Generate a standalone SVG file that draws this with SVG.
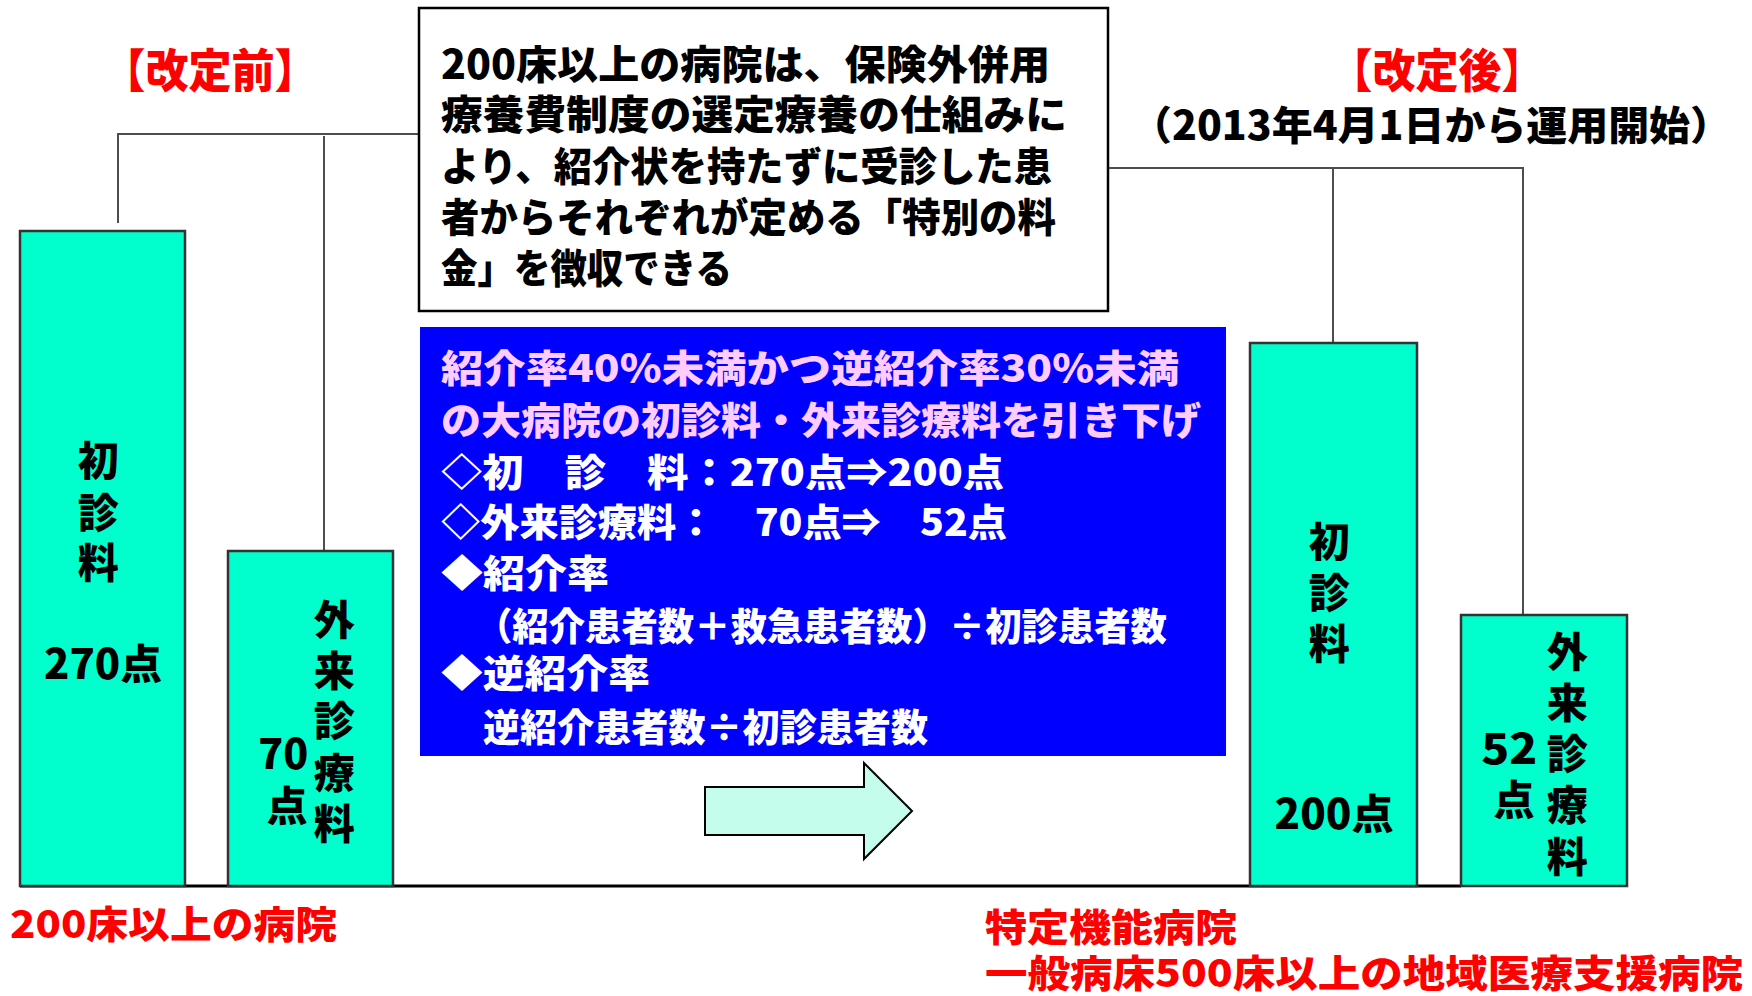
<svg xmlns="http://www.w3.org/2000/svg" width="1752" height="996" viewBox="0 0 1752 996">
<style>
  text { font-family: "Noto Sans CJK JP", "Noto Sans", sans-serif; font-weight: 900; }
  .red { fill: #FF0000; }
  .blk { fill: #000000; }
  .pink { fill: #FFCCFF; }
  .wht { fill: #FFFFFF; }
  .bar { fill: #00FFCC; stroke: #333333; stroke-width: 2.5; }
  .conn { fill: none; stroke: #4D4D4D; stroke-width: 2; }
  .mid { text-anchor: middle; }
</style>
<rect width="1752" height="996" fill="#FFFFFF"/>

<g id="connectors">
  <polyline class="conn" points="118,223 118,134 419,134" stroke="#222222"/>
  <line class="conn" x1="324" y1="136" x2="324" y2="551"/>
  <polyline class="conn" points="1108,168 1523,168 1523,615"/>
  <line class="conn" x1="1333" y1="168" x2="1333" y2="343"/>
  <line x1="20" y1="886" x2="1461" y2="886" stroke="#000000" stroke-width="3"/>
</g>

<g id="title-before">
  <text class="red mid" x="210" y="87" font-size="46" textLength="215" lengthAdjust="spacingAndGlyphs">【改定前】</text>
</g>
<g id="title-after">
  <text class="red mid" x="1437" y="87" font-size="46" textLength="215" lengthAdjust="spacingAndGlyphs">【改定後】</text>
  <text class="blk mid" x="1431" y="140" font-size="40" textLength="600" lengthAdjust="spacingAndGlyphs">（2013年4月1日から運用開始）</text>
</g>

<g id="note-box">
  <rect x="419" y="8" width="689" height="303" fill="#FFFFFF" stroke="#000000" stroke-width="2.5"/>
  <text class="blk" font-size="40">
    <tspan x="441" y="79" textLength="609" lengthAdjust="spacingAndGlyphs">200床以上の病院は、保険外併用</tspan>
    <tspan x="441" y="129" textLength="626" lengthAdjust="spacingAndGlyphs">療養費制度の選定療養の仕組みに</tspan>
    <tspan x="441" y="181" textLength="611" lengthAdjust="spacingAndGlyphs">より、紹介状を持たずに受診した患</tspan>
    <tspan x="441" y="232" textLength="615" lengthAdjust="spacingAndGlyphs">者からそれぞれが定める「特別の料</tspan>
    <tspan x="441" y="283" textLength="291" lengthAdjust="spacingAndGlyphs">金」を徴収できる</tspan>
  </text>
</g>

<g id="info-box">
  <rect x="420" y="327" width="806" height="429" fill="#0000FF"/>
  <text font-size="38">
    <tspan class="pink" x="441" y="382" textLength="738" lengthAdjust="spacingAndGlyphs">紹介率40％未満かつ逆紹介率30％未満</tspan>
    <tspan class="pink" x="441" y="434" textLength="760" lengthAdjust="spacingAndGlyphs">の大病院の初診料・外来診療料を引き下げ</tspan>
    <tspan class="wht" x="441" y="486" textLength="563" lengthAdjust="spacingAndGlyphs">◇初　診　料：270点⇒200点</tspan>
    <tspan class="wht" x="441" y="536" textLength="566" lengthAdjust="spacingAndGlyphs">◇外来診療料：　70点⇒　52点</tspan>
    <tspan class="wht" x="441" y="587" textLength="168" lengthAdjust="spacingAndGlyphs">◆紹介率</tspan>
    <tspan class="wht" x="476" y="640" textLength="691" lengthAdjust="spacingAndGlyphs">（紹介患者数＋救急患者数）÷初診患者数</tspan>
    <tspan class="wht" x="441" y="687" textLength="209" lengthAdjust="spacingAndGlyphs">◆逆紹介率</tspan>
    <tspan class="wht" x="483" y="741" textLength="445" lengthAdjust="spacingAndGlyphs">逆紹介患者数÷初診患者数</tspan>
  </text>
</g>

<g id="bar-before-first">
  <rect class="bar" x="20" y="231" width="165" height="655"/>
  <text class="blk mid" font-size="41">
    <tspan x="103" y="476">初</tspan>
    <tspan x="103" y="528">診</tspan>
    <tspan x="103" y="578">料</tspan>
    <tspan x="103" y="679" textLength="118" lengthAdjust="spacingAndGlyphs">270点</tspan>
  </text>
</g>

<g id="bar-before-outpatient">
  <rect class="bar" x="228" y="551" width="165" height="335"/>
  <text class="blk mid" font-size="41">
    <tspan x="339" y="635">外</tspan>
    <tspan x="339" y="686">来</tspan>
    <tspan x="339" y="736">診</tspan>
    <tspan x="339" y="788">療</tspan>
    <tspan x="339" y="839">料</tspan>
    <tspan x="288" y="769" textLength="50" lengthAdjust="spacingAndGlyphs">70</tspan>
    <tspan x="287" y="821">点</tspan>
  </text>
</g>

<g id="arrow">
  <polygon points="705,787 864,787 864,763 912,811 864,859 864,835 705,835" fill="#C4FDEC" stroke="#000000" stroke-width="2"/>
</g>

<g id="bar-after-first">
  <rect class="bar" x="1250" y="343" width="167" height="543"/>
  <text class="blk mid" font-size="41">
    <tspan x="1334" y="557">初</tspan>
    <tspan x="1334" y="608">診</tspan>
    <tspan x="1334" y="659">料</tspan>
    <tspan x="1334" y="829" textLength="119" lengthAdjust="spacingAndGlyphs">200点</tspan>
  </text>
</g>

<g id="bar-after-outpatient">
  <rect class="bar" x="1461" y="615" width="166" height="271"/>
  <text class="blk mid" font-size="41">
    <tspan x="1572" y="667">外</tspan>
    <tspan x="1572" y="718">来</tspan>
    <tspan x="1572" y="769">診</tspan>
    <tspan x="1572" y="820">療</tspan>
    <tspan x="1572" y="872">料</tspan>
    <tspan x="1514" y="764" textLength="56" lengthAdjust="spacingAndGlyphs">52</tspan>
    <tspan x="1514" y="815">点</tspan>
  </text>
</g>

<g id="label-before">
  <text class="red" x="10" y="938" font-size="38" textLength="327" lengthAdjust="spacingAndGlyphs">200床以上の病院</text>
</g>
<g id="label-after">
  <text class="red" font-size="38">
    <tspan x="985" y="941" textLength="252" lengthAdjust="spacingAndGlyphs">特定機能病院</tspan>
    <tspan x="985" y="987" textLength="758" lengthAdjust="spacingAndGlyphs">一般病床500床以上の地域医療支援病院</tspan>
  </text>
</g>
</svg>
